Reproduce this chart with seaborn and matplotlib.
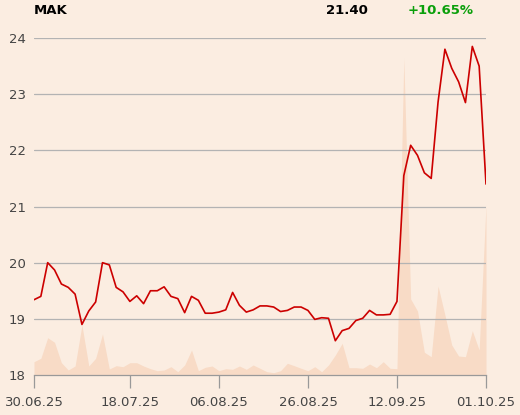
"""
Kursverlauf MAK mit Umsatzfläche
"""
import matplotlib
matplotlib.use('Agg')
import matplotlib.pyplot as plt
import seaborn as sns
import pandas as pd
import numpy as np

# Daten
price = [19.34, 19.40, 20.00, 19.87, 19.62, 19.56, 19.44, 18.90, 19.14, 19.30,
         20.00, 19.96, 19.56, 19.48, 19.31, 19.41, 19.27, 19.50, 19.50, 19.57,
         19.40, 19.36, 19.11, 19.40, 19.33, 19.10, 19.10, 19.12, 19.16, 19.47,
         19.24, 19.12, 19.16, 19.23, 19.23, 19.21, 19.13, 19.15, 19.21, 19.21,
         19.15, 18.99, 19.02, 19.01, 18.61, 18.79, 18.83, 18.97, 19.01, 19.15,
         19.07, 19.07, 19.08, 19.31, 21.55, 22.09, 21.91, 21.60, 21.50, 22.86,
         23.80, 23.46, 23.22, 22.85, 23.85, 23.50, 21.40]

volume = [1330, 1670, 3730, 3270, 1230, 500, 900, 5000, 900, 1670,
          4100, 600, 930, 830, 1230, 1230, 900, 630, 430, 500,
          830, 330, 1000, 2500, 430, 770, 900, 430, 630, 570,
          900, 570, 1000, 670, 330, 230, 430, 1170, 930, 670,
          430, 830, 330, 1000, 2000, 3170, 730, 730, 670, 1100,
          730, 1330, 670, 630, 31700, 7600, 6400, 2270, 1830, 8900,
          6000, 3000, 1900, 1830, 4430, 2500, 17000]

tick_pos = [0, 14, 27, 40, 53, 66]
tick_labels = ['30.06.25', '18.07.25', '06.08.25', '26.08.25', '12.09.25', '01.10.25']

title = 'MAK'
last_price = '21.40'
change = '+10.65%'

# Farben
bg = '#fbede1'
area_col = '#f8dbc6'
line_col = '#cc0000'
grid_col = '#b3b3b3'
text_col = '#444444'

sns.set_style("white")
plt.rcParams['font.family'] = ['DejaVu Sans']

df = pd.DataFrame({'idx': np.arange(len(price)), 'price': price, 'volume': volume})

fig = plt.figure(figsize=(5.2, 4.15), dpi=100, facecolor=bg)
ax = fig.add_axes([34/520, 1 - 375/415, 452/520, 337/415])
ax2 = ax.twinx()

# Umsatz als Fläche im Hintergrund
ax2.fill_between(df['idx'], 0, df['volume'], color=area_col, lw=0)
ax2.set_ylim(0, 33700)
ax2.set_yticks([])
for s in ax2.spines.values():
    s.set_visible(False)
ax2.set_facecolor(bg)

ax.set_zorder(ax2.get_zorder() + 1)
ax.patch.set_visible(False)

sns.lineplot(data=df, x='idx', y='price', ax=ax, color=line_col, lw=1.2)

ax.set_xlim(0, 66)
ax.set_ylim(18, 24)
ax.set_yticks([18, 19, 20, 21, 22, 23, 24])
ax.set_xticks(tick_pos)
ax.set_xticklabels(tick_labels)
ax.set_xlabel('')
ax.set_ylabel('')

for y in [19, 20, 21, 22, 23, 24]:
    ax.axhline(y, color=grid_col, lw=0.9, zorder=1)

for side in ['left', 'right', 'top']:
    ax.spines[side].set_visible(False)
ax.spines['bottom'].set_color('#999999')
ax.spines['bottom'].set_linewidth(0.9)

ax.tick_params(axis='x', bottom=True, direction='out', length=9.5, width=0.9,
               color='#999999', labelcolor=text_col, labelsize=9.5, pad=5.5)
ax.tick_params(axis='y', left=False, length=0, labelsize=9.5,
               labelcolor=text_col, pad=6)

fig.text(34/520, 1 - 10/415, title, fontsize=9.5, fontweight='bold',
         color='black', va='center', ha='left')
fig.text(368/520, 1 - 10/415, last_price, fontsize=9.5, fontweight='bold',
         color='black', va='center', ha='right')
fig.text(474/520, 1 - 10/415, change, fontsize=9.5, fontweight='bold',
         color='#0a9f0a', va='center', ha='right')

fig.savefig('out.png', dpi=100, facecolor=bg)
